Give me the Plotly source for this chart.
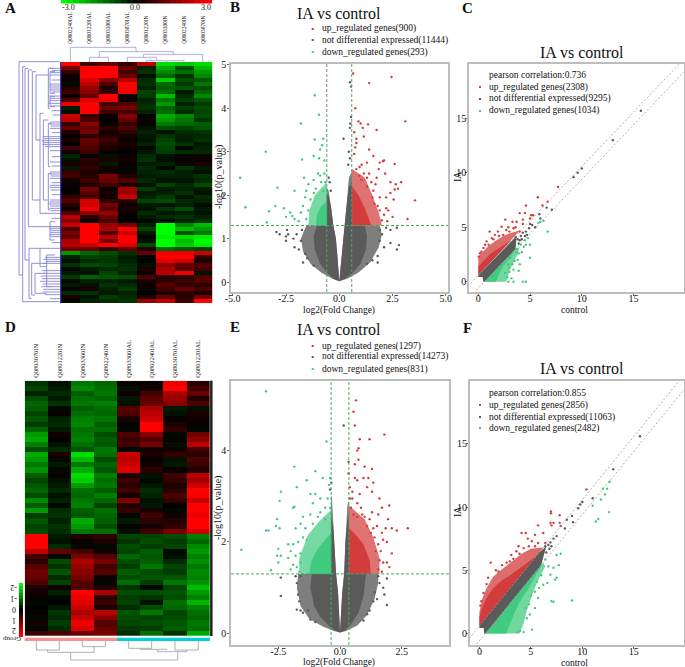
import plotly.graph_objects as go

W, H = 685, 667
SERIF = "Liberation Serif"
RED, GREY, GREEN = "#d23c3c", "#5a5a5a", "#41cb80"
FRAME = "#bdbdbd"

a_samples = ["Q0802240IAL", "Q0801220IAL", "Q0803300IAL", "Q0803070IAL",
             "Q0801220IN", "Q0803300IN", "Q0802240IN", "Q0803070IN"]
d_samples = ["Q0803070IN", "Q0801220IN", "Q0803300IN", "Q0802240IN",
             "Q0803300IAL", "Q0802240IAL", "Q0803070IAL", "Q0801220IAL"]
cbar_vals = [-3, -2.75, -2.5, -2.25, -2, -1.75, -1.5, -1.25, -1, -0.75, -0.5, -0.25, 0,
             0.25, 0.5, 0.75, 1, 1.25, 1.5, 1.75, 2, 2.25, 2.5, 2.75, 3]
cbar_small = [-2, -1.75, -1.5, -1.25, -1, -0.75, -0.5, -0.25, 0, 0.25, 0.5, 0.75, 1, 1.25, 1.5, 1.75, 2]

# expression values, in tenths
heat_a = [
 [30,8,12,6,22,-26,-24,-26],[14,30,30,12,-4,-20,-9,-22],[6,30,30,8,-6,-16,-13,-18],[2,30,29,12,-2,-12,-6,-16],
 [1,26,16,22,-5,-24,-9,-10],[-1,22,9,30,-6,-12,-7,-14],[4,18,4,30,-4,-11,-10,-9],[7,16,6,28,-8,-13,-3,-12],
 [2,12,30,2,-7,-22,-5,-16],[9,26,28,1,-4,-14,-7,-10],[28,30,8,10,-5,-18,-4,-7],[-3,30,12,14,-6,-11,-7,-9],
 [-2,30,7,8,-4,-13,-5,-8],[24,6,1,16,0,-20,-16,-9],[22,9,0,12,-1,-18,-14,-6],[6,16,2,6,1,-14,-12,-11],
 [12,12,5,10,-2,-9,-8,-10],[4,14,2,5,-4,-2,-5,-6],[1,5,4,3,-3,-6,-4,-5],[3,12,8,1,-2,-8,-3,-6],
 [0,11,5,3,-4,-9,-6,-3],[8,9,3,2,-1,-8,-1,-4],[2,7,1,0,-3,-7,-5,-5],[-4,1,-2,2,-5,-2,-1,2],
 [-2,5,3,2,-6,-2,2,1],[3,4,-3,1,-3,-4,-1,3],[-3,6,2,-1,-5,-1,-6,-3],[6,3,2,1,-4,-5,-3,-2],
 [8,5,14,4,-3,-4,-4,-6],[2,7,12,9,-5,-2,-2,-5],[1,4,8,3,-2,-8,-5,-9],[0,14,1,20,-7,-3,-4,-3],
 [1,10,3,18,-3,-4,-6,-2],[6,8,2,24,-4,-7,-2,-5],[10,26,6,5,-8,-9,-5,-4],[4,24,14,2,-3,-2,-4,-1],
 [2,28,10,3,-2,-6,-9,-3],[9,16,18,1,-5,-3,-4,-2],[22,6,12,0,-3,-5,-6,-4],[16,1,8,0,-1,-2,-4,-6],
 [24,30,18,14,-4,-30,-16,-22],[8,30,20,30,-8,-30,-22,-18],[14,30,10,24,-3,-30,-10,-14],[12,30,22,30,-1,-28,-26,-28],
 [20,30,14,30,-2,-30,-22,-30],[22,24,30,26,-9,-30,-24,-28],[14,12,6,12,4,-12,-10,-8],[-18,-12,-9,-6,12,28,28,24],
 [-4,-8,-7,-3,-1,30,30,6],[-2,-5,-6,-4,0,26,24,3],[-6,-9,-8,-5,-2,16,12,10],[-1,-3,-5,-6,3,20,10,8],
 [-3,-2,-8,-4,1,22,28,-2],[-7,-11,-10,-9,9,4,4,10],[-1,-4,-4,-3,3,6,7,9],[-3,-2,-6,-5,2,10,6,5],
 [1,3,-4,-7,-1,8,12,9],[-5,-6,-3,-4,0,3,5,3],[3,-2,-7,-5,4,12,4,14],[-1,-4,-5,-6,18,22,8,30],
]
heat_d = [
 [-6,-2,-14,-12,1,1,28,5],[-8,-3,-16,-13,-2,2,30,8],[-4,-5,-11,-14,2,8,20,12],[-9,-3,-13,-12,-3,11,18,4],
 [-12,-6,-14,-15,-2,12,16,9],[-11,-1,-11,-13,10,20,-3,-2],[-8,1,-13,-12,9,22,-2,3],[-10,-4,-15,-14,3,24,1,2],
 [-7,-5,-16,-11,1,30,3,1],[-12,-3,-13,-13,-1,30,6,-1],[-18,2,-14,-9,9,16,-1,13],[-20,0,-15,-11,7,10,1,17],
 [-15,-2,-13,-10,8,14,-2,22],[-9,-5,-10,-14,-1,2,2,8],[-20,3,-26,-13,24,3,6,5],[-18,-1,-22,-9,22,1,-2,9],
 [-14,-3,-14,-12,24,2,-3,7],[-17,-1,-20,-10,26,5,1,4],[-11,1,-26,-15,3,-2,8,22],[-8,-2,-24,-13,7,-1,6,19],
 [-10,-3,-18,-14,5,-3,3,24],[-12,-5,-13,-11,8,-5,5,30],[-9,-2,-12,-15,2,-4,9,29],[-16,-4,-14,-12,15,-2,6,24],
 [-11,-1,-15,-8,4,-3,0,30],[-18,-5,-11,-13,6,3,-1,30],[-7,-6,-10,-12,-1,8,2,28],[-10,-4,-20,-11,-3,5,4,30],
 [-8,-6,-18,-9,1,2,6,30],[-9,-5,-14,-13,-2,8,14,24],[30,-3,4,6,-8,-8,-9,-15],[30,-2,1,3,-6,-9,-7,-12],
 [30,-5,-1,-1,-9,-7,-8,-16],[22,12,8,2,-8,-11,-1,-18],[8,-1,14,10,-12,-10,-2,-15],[5,-9,20,14,-9,-11,-5,-17],
 [10,-6,18,8,-7,-14,-8,-14],[13,-10,16,10,-11,-9,-7,-16],[12,-5,14,1,-9,-10,-10,-15],[9,-8,10,-1,-13,-7,-14,-17],
 [3,2,9,4,-6,-1,-8,-22],[2,-4,30,20,-9,-9,-10,-18],[1,-1,28,5,-7,-6,-9,-15],[-1,0,26,7,-8,-2,-13,-21],
 [0,-3,24,3,-5,-9,-12,-15],[1,-6,20,22,-10,-14,-8,-13],[-1,-5,23,16,-9,-8,-9,-12],[2,-7,28,10,-8,-9,-10,-14],
 [-1,-5,26,12,-7,-7,-11,-13],[7,9,12,14,-5,-13,-6,-20],
]

# dendrograms: (x of joint, y1, y2, x end at y1, x end at y2)
a_row_brackets = [(57,185,825,180,68),(68,200,905,75,180),(75,205,780,85,87),(85,210,680,97,180),(87,745,895,120,95),
 (95,790,885,140,105),(97,215,600,108,120),(108,225,420,145,120),(120,340,640,130,150),(120,745,800,180,140),
 (145,205,325,160,150),(130,360,600,145,145),(145,370,500,155,150),(145,520,630,155,150),(140,765,860,165,155),
 (105,820,880,135,140),(150,665,720,165,165),(150,215,280,165,165),(150,290,320,165,165)]
a_leaves = [(150,205),(155,212),(152,218),(150,225),(155,240),(150,252),(148,258),(152,264),(150,270),(155,276),(145,288),
 (150,295),(148,302),(146,310),(152,318),(155,332),(158,345),(150,366),(148,372),(152,378),(150,385),(155,398),(128,410),
 (132,416),(125,422),(130,428),(128,434),(135,440),(150,452),(155,470),(150,486),(155,498),(150,516),(148,522),(152,528),
 (150,535),(155,548),(150,556),(148,562),(152,570),(155,584),(150,600),(148,606),(146,612),(150,618),(148,625),(152,632),
 (150,640),(155,655),(150,680),(148,686),(152,692),(150,698),(148,704),(152,710),(155,728),(135,772),(130,778),(138,784),
 (130,790),(125,812),(128,820),(122,828),(126,836),(120,844),(128,852),(124,860),(130,868),(128,876),(135,884),(150,896)]
a_col_brackets = [(142,211,408,186,155),(155,298,520,172,163),(172,268,325,186,186),(163,430,608,172,186),(172,382,470,186,182),
 (182,438,495,186,186),(182,552,500,186,186)]
d_col_brackets = [(1005,109,178,978,978),(995,247,316,978,978),(1012,143,282,1005,995),(1035,212,533,1012,1010),
 (1000,386,455,978,978),(1005,525,595,978,978),(1010,472,560,1005,1005),(1003,420,500,1000,1005)]

# panel B points and dense regions
b_up = [(0.65,4.8),(2.45,4.72),(1.4,4.58),(0.75,4.0),(0.9,3.7),(1.0,3.65),(1.35,3.63),(3.1,3.7),(1.75,3.5),(0.7,3.45),(1.1,3.55),
 (0.8,3.3),(1.15,3.35),(0.75,3.1),(0.8,3.2),(1.4,3.05),(1.6,2.9),(2.1,2.8),(2.05,2.78),(1.9,2.75),(2.6,2.72),(0.7,2.95),(1.3,2.75),
 (1.05,2.7),(0.95,2.65),(1.85,2.6),(1.4,2.5),(2.15,2.5),(2.4,2.3),(2.65,2.25),(2.6,2.13),(2.9,2.3),(2.75,2.15),(1.75,2.4),(1.3,2.4),
 (0.95,2.45),(1.6,2.1),(2.4,2.05),(2.2,1.95),(2.55,1.9),(3.55,1.88),(3.2,1.45),(2.5,1.5),(2.3,1.65),(2.2,1.7),(2.1,1.55),(2.25,1.4),
 (1.9,1.95),(1.7,2.25),(1.3,2.2),(1.05,2.35),(1.55,1.95),(1.8,1.75),(2.0,1.42),(1.9,1.65),(1.65,1.8),(0.8,2.6),(1.15,2.5),(1.5,2.3)]
b_down = [(-1.15,4.3),(-0.95,3.85),(-1.8,3.65),(-1.15,3.28),(-0.75,3.3),(-3.45,3.0),(-0.8,3.15),(-0.9,3.05),(-1.75,2.82),(-1.2,2.9),
 (-0.95,2.85),(-0.7,2.8),(-4.65,2.4),(-1.65,2.4),(-1.2,2.35),(-0.9,2.45),(-2.9,2.17),(-2.1,2.1),(-1.55,2.1),(-3.0,1.75),(-4.4,1.72),
 (-3.3,1.63),(-2.6,1.7),(-2.3,1.6),(-2.2,1.52),(-3.4,1.37),(-2.5,1.5),(-2.1,1.45),(-1.8,1.6),(-1.7,1.75),(-1.6,1.95),(-1.35,1.9),
 (-1.45,2.25),(-1.1,2.15),(-1.2,2.05),(-0.85,2.3),(-0.75,2.1),(-1.9,1.4),(-1.55,1.45),(-1.45,1.65),(-1.0,2.5),(-0.7,2.5),(-0.65,2.3)]
b_flat = [(0.5,4.6),(0.55,4.5),(0.55,3.8),(0.52,3.65),(0.5,3.55),(0.2,3.3),(0.45,3.0),(0.5,2.85),(0.42,2.7),(-2.95,1.15),(-2.8,1.1),
 (-2.4,1.1),(-2.45,1.2),(-2.5,1.05),(-2.5,0.95),(-2.15,1.0),(-2.0,1.1),(-2.1,0.8),(-1.7,0.45),(-1.6,0.65),(-1.9,0.75),(2.2,1.25),
 (2.4,1.2),(2.7,1.25),(2.4,0.9),(2.8,0.85),(2.7,0.75),(2.1,0.8),(1.8,0.6),(1.8,0.45),(1.55,0.5),(2.0,1.1),(1.9,1.2),(-1.75,1.2),
 (-1.8,0.95),(-1.5,0.55),(-1.2,0.38),(1.3,0.42),(1.9,0.95),(-0.45,2.3),(-0.4,2.1),(-0.5,2.4)]
b_flat_halo_left = [(0,0.02),(-0.03,0.3),(-0.09,0.6),(-0.16,1.0),(-0.28,1.3),(-0.38,1.7),(-0.5,2.1),(-0.6,2.2),(-0.6,1.3),(-1.55,1.3),
 (-1.8,1.0),(-1.7,0.7),(-1.35,0.42),(-0.85,0.22),(-0.35,0.08)]
b_flat_core_left = [(0,0.02),(-0.03,0.3),(-0.09,0.6),(-0.16,1.0),(-0.28,1.3),(-0.38,1.7),(-0.5,2.0),(-0.6,2.0),(-0.6,1.3),(-1.05,1.3),
 (-1.2,1.05),(-1.15,0.75),(-0.9,0.42),(-0.55,0.2),(-0.25,0.07)]
b_flat_halo_right = [(0,0.02),(0.4,0.08),(0.9,0.22),(1.45,0.45),(1.85,0.8),(2.0,1.1),(1.9,1.3),(0.6,1.3),(0.6,2.55),(0.45,2.4),(0.35,1.8),
 (0.25,1.3),(0.15,0.9),(0.07,0.5),(0.02,0.2)]
b_flat_core_right = [(0,0.02),(0.3,0.08),(0.6,0.2),(1.0,0.42),(1.25,0.75),(1.3,1.05),(1.2,1.3),(0.6,1.3),(0.6,2.3),(0.45,2.2),(0.35,1.8),
 (0.25,1.3),(0.15,0.9),(0.07,0.5),(0.02,0.2)]
b_up_halo = [(0.6,1.3),(2.0,1.3),(1.85,1.6),(1.55,2.0),(1.2,2.4),(0.6,2.6)]
b_up_core = [(0.6,1.3),(1.5,1.3),(1.2,1.7),(0.9,2.0),(0.6,2.2)]
b_down_halo = [(-0.6,1.3),(-1.45,1.3),(-1.4,1.65),(-1.15,2.0),(-0.6,2.3)]
b_down_core = [(-0.6,1.3),(-1.1,1.3),(-1.05,1.55),(-0.85,1.75),(-0.6,1.85)]

# panel C
c_up = [(7.7,8.7),(5.75,7.75),(4.6,7.0),(5.1,6.1),(5.3,6.1),(6.2,7.0),(6.7,7.35),(4.0,6.3),(4.5,6.3),(2.6,5.7),(3.3,5.5),(3.7,5.5),
 (2.25,5.05),(1.1,4.6),(1.9,4.6),(2.7,4.75),(1.6,4.3),(0.15,2.6),(0.3,2.75),(0.8,3.7),(0.65,3.4),(1.3,4.0),(2.4,4.3),(4.0,4.6),
 (3.0,4.6),(3.4,4.9),(2.9,5.0),(3.6,5.0),(1.45,3.9),(0.5,3.1),(0.05,2.3),(1.0,3.4),(2.0,4.2),(4.3,5.3),(5.0,5.8),(4.3,5.7)]
c_down = [(6.7,4.6),(6.3,5.6),(6.0,5.5),(5.8,5.4),(4.8,4.0),(5.0,3.4),(4.6,3.4),(4.4,3.2),(5.0,2.2),(3.9,2.6),(3.7,2.7),(4.0,1.6),
 (3.9,1.0),(3.0,0.9),(4.3,0.0),(4.6,0.0),(3.4,0.0),(3.3,1.6),(3.5,1.9),(3.1,2.2),(2.9,1.6),(2.8,0.4),(2.6,0.8),(4.1,3.4),(3.2,0.3),
 (2.9,0.0),(3.0,1.3),(3.4,1.1),(3.8,2.0),(4.2,2.7),(4.5,3.8),(3.7,3.0)]
c_flat = [(15.7,15.7),(13.0,13.0),(9.2,9.6),(9.6,10.0),(10.0,10.4),(7.1,6.6),(6.0,5.8),(5.9,6.2),(6.6,6.8),(5.2,5.2),(4.9,4.9),(5.5,5.0),
 (4.6,4.6),(4.3,4.5),(4.1,4.2),(4.5,4.2),(3.8,3.9),(3.6,4.1),(3.9,3.5),(4.0,3.8),(5.0,5.3),(4.7,4.3),(4.2,3.9)]
c_flat_mass = [(0.45,0.05),(0.5,0),(0.6,0),(3.6,3.0),(3.7,4.2),(0,0.585),(0,0.42),(0.42,0.42)]
c_up_halo = [(0,0.5),(0,2.3),(0.4,2.7),(0.9,3.2),(1.6,3.7),(2.4,4.2),(3.2,4.5),(4.0,4.7),(0,0.585)]
c_up_core = [(0,0.585),(0,1.4),(0.5,1.9),(1.2,2.6),(2.2,3.2),(3.2,3.8),(3.6,4.2)]
c_down_halo = [(0.6,0),(2.7,0),(2.9,0.6),(3.1,1.2),(3.4,1.8),(3.8,2.5),(4.0,3.2),(3.6,3.0)]
c_down_core = [(0.6,0),(1.7,0),(2.0,0.7),(2.4,1.4),(3.0,2.1),(3.6,3.0)]

# panel E
e_up = [(0.65,5.1),(0.55,4.85),(0.6,4.55),(1.8,4.35),(1.2,4.25),(0.8,4.25),(0.75,4.05),(0.7,4.0),(0.75,3.8),(0.6,3.7),(1.0,3.65),
 (1.3,3.6),(0.95,3.4),(1.15,3.4),(0.6,3.4),(0.7,3.35),(0.4,3.2),(0.5,3.1),(1.1,3.2),(1.35,3.3),(1.3,3.1),(0.8,3.05),(0.5,2.95),(0.4,2.95),
 (1.6,2.95),(0.7,2.85),(2.0,2.8),(1.7,2.75),(0.85,2.75),(1.3,2.65),(1.2,2.5),(1.95,2.5),(1.55,2.6),(2.1,2.3),(2.3,2.25),(2.75,2.3),
 (1.85,2.3),(1.7,2.2),(1.5,2.35),(1.9,2.0),(2.1,1.75),(1.9,1.55),(2.0,1.45),(1.75,1.55),(1.65,1.8),(1.55,1.95),(1.4,2.1),(1.1,2.35),
 (1.0,2.55),(0.7,2.55),(0.55,2.6),(1.35,2.3),(1.6,1.6),(1.55,1.4),(1.7,1.35),(1.45,1.8),(0.45,2.75),(0.9,2.6),(1.25,2.2),(1.75,2.05)]
e_down = [(-3.0,5.3),(-0.55,4.2),(-1.85,3.65),(-1.0,3.55),(-0.7,3.4),(-0.4,3.4),(-0.45,3.25),(-1.35,3.35),(-1.75,3.2),(-2.4,3.1),
 (-1.2,3.05),(-1.0,3.05),(-0.8,2.95),(-2.45,2.9),(-1.1,2.85),(-1.9,2.75),(-1.85,2.77),(-0.6,2.75),(-0.4,2.75),(-2.55,2.5),(-1.5,2.55),
 (-1.2,2.6),(-0.9,2.55),(-2.45,2.3),(-3.0,2.25),(-2.9,2.25),(-2.6,2.35),(-1.6,2.4),(-1.8,2.3),(-1.4,2.3),(-4.0,1.83),(-2.5,1.85),
 (-2.55,1.7),(-2.4,1.7),(-2.5,1.55),(-2.1,1.95),(-2.1,1.65),(-2.0,1.8),(-1.9,1.5),(-2.8,1.38),(-2.0,1.4),(-1.8,1.7),(-1.7,2.0),(-1.5,2.1),
 (-1.75,1.45),(-1.6,1.75),(-1.35,2.05),(-1.1,2.4),(-0.8,2.65),(-0.6,2.5),(-1.65,1.35),(-1.6,1.55),(-1.9,1.95),(-0.5,2.95)]
e_flat = [(0.15,4.55),(0.35,3.75),(0.35,3.5),(-0.35,3.3),(-0.4,3.15),(-2.4,1.22),(-2.4,0.82),(1.9,1.2),(1.75,1.0),(1.8,0.85),(1.9,0.62),
 (1.6,1.1),(-1.8,1.25),(-1.75,1.1),(-1.7,0.85),(-1.75,0.52),(-1.6,0.5),(-1.5,0.45),(-1.3,0.5),(1.4,0.9),(1.5,0.75),(1.2,0.5),(-1.2,0.3),
 (-1.65,0.7),(-1.6,1.25),(1.55,1.25),(1.35,0.7),(1.1,0.42),(0.95,0.28),(-1.0,0.25)]
e_flat_halo_left = [(0,0.02),(-0.03,0.4),(-0.08,0.9),(-0.16,1.3),(-0.2,1.8),(-0.27,2.4),(-0.33,3.0),(-0.36,3.0),(-0.36,1.3),(-1.7,1.3),
 (-1.75,1.0),(-1.6,0.6),(-1.25,0.32),(-0.7,0.15),(-0.25,0.05)]
e_flat_core_left = [(0,0.02),(-0.03,0.4),(-0.08,0.9),(-0.16,1.3),(-0.2,1.8),(-0.27,2.3),(-0.36,2.6),(-0.36,1.3),(-1.15,1.3),
 (-1.2,1.0),(-1.05,0.6),(-0.8,0.35),(-0.45,0.17),(-0.2,0.06)]
e_flat_halo_right = [(0,0.02),(0.25,0.05),(0.7,0.17),(1.1,0.4),(1.4,0.75),(1.55,1.1),(1.55,1.3),(0.36,1.3),(0.36,2.9),(0.3,2.8),(0.22,2.0),
 (0.17,1.3),(0.09,0.9),(0.04,0.4)]
e_flat_core_right = [(0,0.02),(0.2,0.06),(0.45,0.2),(0.75,0.45),(0.95,0.8),(1.05,1.3),(0.36,1.3),(0.36,2.6),(0.3,2.5),(0.22,2.0),(0.17,1.3),
 (0.09,0.9),(0.04,0.4)]
e_up_halo = [(0.36,1.3),(1.6,1.3),(1.6,1.65),(1.35,2.1),(1.0,2.5),(0.36,2.8)]
e_up_core = [(0.36,1.3),(1.25,1.3),(1.2,1.6),(0.95,1.95),(0.65,2.15),(0.36,2.3)]
e_down_halo = [(-0.36,1.3),(-1.65,1.3),(-1.65,1.65),(-1.3,2.15),(-0.85,2.45),(-0.36,2.7)]
e_down_core = [(-0.36,1.3),(-1.25,1.3),(-1.15,1.6),(-0.9,1.85),(-0.6,2.05),(-0.36,2.2)]

# panel F
f_up = [(10.4,11.4),(6.95,9.65),(6.95,9.5),(7.8,9.35),(6.9,8.75),(7.2,8.75),(7.0,8.55),(7.8,8.75),(5.7,8.55),(4.1,7.95),(4.5,7.95),
 (5.4,7.8),(6.2,7.95),(4.7,7.5),(5.1,7.3),(1.1,5.6),(2.65,5.6),(3.8,6.9),(3.1,6.2),(0.85,4.4),(0.2,2.55),(0.4,3.2),(1.85,4.9),(4.3,6.75),
 (3.6,6.5),(5.7,7.15),(6.4,7.15),(1.6,5.0),(2.2,5.4),(3.3,5.9),(2.95,5.7),(4.8,6.9),(5.4,6.9),(0.7,3.9),(0.1,2.2),(3.9,6.3)]
f_down = [(12.65,12.0),(12.0,11.45),(12.4,11.45),(11.8,10.6),(12.2,11.0),(11.0,10.1),(12.6,9.6),(11.55,9.05),(11.3,8.85),(9.0,2.6),(7.0,2.55),
 (7.2,2.5),(7.9,6.3),(7.5,6.2),(7.7,5.4),(7.2,5.2),(6.9,4.65),(7.35,4.25),(7.5,4.4),(6.7,5.3),(6.4,5.85),(6.2,3.85),(5.6,4.1),(5.7,2.8),
 (5.4,2.0),(4.9,1.5),(5.1,0.3),(3.95,0.2),(4.6,1.2),(5.4,3.3),(4.3,0.1),(3.7,0.1),(4.8,2.3),(4.5,2.0),(5.0,3.0),(6.0,4.6),(5.8,3.6),(6.6,4.0)]
f_flat = [(15.6,15.6),(13.0,13.0),(11.0,10.7),(9.8,10.2),(9.6,9.9),(9.0,9.3),(9.1,8.8),(8.5,9.0),(8.3,8.3),(7.9,8.5),(7.5,7.7),(7.2,7.5),
 (6.9,7.2),(6.8,6.7),(6.4,6.9),(6.5,6.4),(10.0,10.4),(7.0,6.9),(6.7,7.0)]
f_flat_mass = [(0.45,0.05),(0.5,0),(0.6,0),(6.0,5.4),(6.5,6.9),(5.8,6.4),(0,0.585),(0,0.42),(0.42,0.42)]
f_up_halo = [(0,0.5),(0,1.7),(0.3,2.8),(0.7,3.6),(1.35,4.5),(2.2,5.1),(3,5.6),(4.1,6.3),(5,6.7),(6,6.8),(6.2,6.785)]
f_up_core = [(0,0.585),(0,1.3),(0.3,2.1),(0.7,2.8),(1.35,3.6),(2.2,4.2),(3,4.6),(4.1,5.3),(5,5.8),(5.5,6.085)]
f_down_halo = [(0.6,0),(3.9,0),(4.3,0.8),(4.6,1.8),(5.1,3),(5.7,4.2),(6.4,5.3),(6.2,5.6)]
f_down_core = [(0.6,0),(2.6,0),(3.0,0.8),(3.4,1.6),(4,2.6),(4.8,3.6),(5.6,4.8),(6.2,5.6)]

fold_b, fold_e, p_line, diag_gap = 0.585, 0.36, 1.301, 0.585

fig = go.Figure()
anns, shapes = [], []
layout = {}

def dx(l, r): return [l / W, r / W]
def dy(t, b): return [1 - b / H, 1 - t / H]

def xy(pairs):
    return [p[0] for p in pairs], [p[1] for p in pairs]

def mass(ax, ay, pairs, color, opacity=1):
    x, y = xy(pairs)
    fig.add_trace(go.Scatter(x=x + x[:1], y=y + y[:1], mode="lines", fill="toself", fillcolor=color, opacity=opacity,
                             line=dict(width=0, color=color), xaxis=ax, yaxis=ay, showlegend=False, hoverinfo="skip"))

def dots(ax, ay, pairs, color, name):
    x, y = xy(pairs)
    fig.add_trace(go.Scatter(x=x, y=y, mode="markers", name=name, marker=dict(size=2.4, color=color, line=dict(width=0)),
                             xaxis=ax, yaxis=ay, showlegend=False))

def guide(ax, ay, x, y, color, dash, width=1):
    fig.add_trace(go.Scatter(x=x, y=y, mode="lines", line=dict(color=color, dash=dash, width=width), xaxis=ax, yaxis=ay,
                             showlegend=False, hoverinfo="skip"))

def axes(n, fx, fy, xr, yr, xt, xl, yt, yl, y_standoff):
    base = dict(showgrid=False, zeroline=False, showline=True, mirror=True, linecolor=FRAME, linewidth=1.5, ticks="outside",
                ticklen=2, tickcolor="#666", tickfont=dict(family=SERIF, size=10, color="#111"), automargin=False)
    layout[f"xaxis{n}"] = dict(base, domain=dx(*fx), range=xr, tickvals=xt, ticktext=xl, anchor=f"y{n}", ticklabelstandoff=-6)
    layout[f"yaxis{n}"] = dict(base, domain=dy(*fy), range=yr, tickvals=yt, ticktext=yl, anchor=f"x{n}", ticklabelstandoff=y_standoff)

def text(x, y, s, size=9.5, angle=0, bold=False, anchor="left", color="#111"):
    anns.append(dict(xref="paper", yref="paper", x=x / W, y=1 - y / H, text=f"<b>{s}</b>" if bold else s, showarrow=False, xanchor=anchor,
                     yanchor="middle", textangle=angle, font=dict(family=SERIF, size=size, color=color)))

def legend_block(xm, xt, ys, labels, colors):
    for y, lab, col in zip(ys, labels, colors):
        text(xt, y, lab)
        shapes.append(dict(type="rect", xref="paper", yref="paper", x0=(xm - 1) / W, x1=(xm + 1) / W, y0=1 - (y + 1) / H, y1=1 - (y - 1) / H,
                           fillcolor=col, line=dict(width=0)))

# heatmaps
SCALE = [[0, "#00ff00"], [0.5, "#000000"], [1, "#ff0000"]]
def heat(n, z, cats, fx, fy, standoff, size):
    fig.add_trace(go.Heatmap(z=z, x=cats, zmin=-30, zmax=30, colorscale=SCALE, showscale=False, xaxis=f"x{n}", yaxis=f"y{n}"))
    layout[f"xaxis{n}"] = dict(domain=dx(*fx), side="top", tickangle=-90, ticks="", showgrid=False, zeroline=False, anchor=f"y{n}", automargin=False,
                               tickfont=dict(family=SERIF, size=size, color="#111"), ticklabelstandoff=standoff, tickmode="array", tickvals=cats, ticktext=cats)
    layout[f"yaxis{n}"] = dict(domain=dy(*fy), autorange="reversed", visible=False, anchor=f"x{n}", automargin=False)

heat("", heat_a, a_samples, (60.7, 212.3), (62, 303), 17, 5.4)
heat(2, heat_d, d_samples, (24.7, 210), (380.7, 636), 2, 6.4)

# colour bars
fig.add_trace(go.Heatmap(z=[cbar_vals, cbar_vals], zmin=-3, zmax=3, colorscale=SCALE, showscale=False, xaxis="x3", yaxis="y3", hoverinfo="skip"))
layout["xaxis3"] = dict(domain=dx(61, 212), visible=False, anchor="y3")
layout["yaxis3"] = dict(domain=dy(0, 3.5), visible=False, anchor="x3")
fig.add_trace(go.Heatmap(z=[[v, v] for v in cbar_small], zmin=-2, zmax=2, colorscale=SCALE, showscale=False, xaxis="x4", yaxis="y4", hoverinfo="skip"))
layout["xaxis4"] = dict(domain=dx(19, 23), visible=False, anchor="y4")
layout["yaxis4"] = dict(domain=dy(583, 637), visible=False, anchor="x4", autorange="reversed")
for s, x in [("-3.0", 68), ("0.0", 135), ("3.0", 206)]:
    text(x, 7.5, s, size=8, anchor="center")
for s, y in [("-2", 588), ("-1", 599), ("0", 610), ("1", 621), ("2", 631)]:
    text(14, y, s, size=8, angle=180, anchor="center")
text(12, 639.5, "Group", size=7, angle=180, anchor="center")

# volcano and scatter panels
axes(5, (231, 448), (64, 292), [-5.08, 5.1], [-0.23, 5.02], [-5, -2.5, 0, 2.5, 5], ["-5.0", "-2.5", "0.0", "2.5", "5.0"],
     [0, 1, 2, 3, 4, 5], ["0", "1", "2", "3", "4", "5"], -1)
axes(6, (469, 684.3), (64, 292.3), [-0.9, 19.9], [-0.98, 20], [0, 5, 10, 15], ["0", "5", "10", "15"],
     [0, 5, 10, 15], ["0", "5", "10", "15"], -3)
axes(7, (231, 449), (380.7, 645), [-4.42, 4.42], [-0.255, 5.53], [-2.5, 0, 2.5], ["-2.5", "0.0", "2.5"],
     [0, 2, 4], ["0", "2", "4"], -1)
axes(8, (469.7, 684.3), (380.7, 645), [-0.94, 19.9], [-0.92, 20], [0, 5, 10, 15], ["0", "5", "10", "15"],
     [0, 5, 10, 15], ["0", "5", "10", "15"], -3)
for s, x, y in [("log2(Fold Change)", 339, 310), ("control", 574, 310), ("log2(Fold Change)", 339, 662.5), ("control", 574, 662.5)]:
    text(x, y, s, size=9.5, anchor="center")
for s, x, y in [("-log10(p_value)", 219, 177), ("IA", 457, 177), ("-log10(p_value)", 218, 508), ("IA", 457, 512)]:
    text(x, y, s, size=10, angle=-90, anchor="center")

def volcano(n, masses, up, down, flat, fold, xr, yr):
    ax, ay = f"x{n}", f"y{n}"
    fhl, fcl, fhr, fcr, uh, uc, dh, dc = masses
    mass(ax, ay, fhl, GREY, 0.78); mass(ax, ay, fhr, GREY, 0.78)
    mass(ax, ay, fcl, GREY); mass(ax, ay, fcr, GREY)
    mass(ax, ay, uh, RED, 0.72); mass(ax, ay, uc, RED)
    mass(ax, ay, dh, GREEN, 0.72); mass(ax, ay, dc, GREEN)
    dots(ax, ay, flat, GREY, "not differential expressed")
    dots(ax, ay, up, RED, "up_regulated genes"); dots(ax, ay, down, GREEN, "down_regulated genes")
    guide(ax, ay, xr, [p_line, p_line], "#3fae5c", "3px,2px")
    for f in (-fold, fold):
        guide(ax, ay, [f, f], yr, "#3fae5c", "3px,2px")

def scatter(n, fm, uh, uc, dh, dc, up, down, flat):
    ax, ay = f"x{n}", f"y{n}"
    mass(ax, ay, dh, GREEN, 0.75); mass(ax, ay, dc, GREEN)
    mass(ax, ay, uh, RED, 0.75); mass(ax, ay, uc, RED)
    mass(ax, ay, fm, GREY)
    dots(ax, ay, flat, GREY, "not differential expressed")
    dots(ax, ay, up, RED, "up_regulated genes"); dots(ax, ay, down, GREEN, "down_regulated genes")
    for g in (diag_gap, -diag_gap):
        guide(ax, ay, [-1, 20], [-1 + g, 20 + g], "#9a9a9a", "2px,2px", 0.8)

volcano(5, (b_flat_halo_left, b_flat_core_left, b_flat_halo_right, b_flat_core_right, b_up_halo, b_up_core, b_down_halo, b_down_core),
        b_up, b_down, b_flat, fold_b, [-5.08, 5.1], [-0.23, 5.02])
scatter(6, c_flat_mass, c_up_halo, c_up_core, c_down_halo, c_down_core, c_up, c_down, c_flat)
volcano(7, (e_flat_halo_left, e_flat_core_left, e_flat_halo_right, e_flat_core_right, e_up_halo, e_up_core, e_down_halo, e_down_core),
        e_up, e_down, e_flat, fold_e, [-4.42, 4.42], [-0.255, 5.53])
scatter(8, f_flat_mass, f_up_halo, f_up_core, f_down_halo, f_down_core, f_up, f_down, f_flat)

# titles, legends, letters
for x, y in [(339, 13), (582, 52), (339, 330), (582, 368)]:
    text(x, y, "IA vs control", size=16, anchor="center")
cols = [RED, GREY, GREEN]
legend_block(312.7, 320, [29, 40, 52], ["up_regulated genes(900)", "not differential expressed(11444)", "down_regulated genes(293)"], cols)
legend_block(312.7, 320, [346, 357, 369], ["up_regulated genes(1297)", "not differential expressed(14273)", "down_regulated genes(831)"], cols)
text(487, 75, "pearson correlation:0.736")
legend_block(480, 487, [87, 99, 111], ["up_regulated genes(2308)", "not differential expressed(9295)", "down_regulated genes(1034)"], cols)
text(487, 393, "pearson correlation:0.855")
legend_block(480, 487, [405, 417, 428], ["up_regulated genes(2856)", "not differential expressed(11063)", "down_regulated genes(2482)"], cols)
for s, x, y in [("A", 10, 8), ("B", 235, 7), ("C", 467, 8), ("D", 10, 327), ("E", 235, 327), ("F", 467, 328)]:
    text(x, y, s, size=15, bold=True, anchor="center")

# dendrograms and strips on a full-figure overlay, in 3x picture units
lx, ly = [], []
for x, y1, y2, e1, e2 in a_row_brackets:
    lx += [e1, x, x, e2, None]; ly += [y1, y1, y2, y2, None]
for x0, y in a_leaves:
    lx += [x0, 180, None]; ly += [y, y, None]
fig.add_trace(go.Scatter(x=lx, y=ly, mode="lines", line=dict(color="#8484d0", width=0.9), xaxis="x9", yaxis="y9", showlegend=False, hoverinfo="skip"))
cx, cy = [], []
for y, x1, x2, e1, e2 in a_col_brackets:
    cx += [x1, x1, x2, x2, None]; cy += [e1, y, y, e2, None]
fig.add_trace(go.Scatter(x=cx, y=cy, mode="lines", line=dict(color="#9a9ad8", width=0.8), xaxis="x9", yaxis="y9", showlegend=False, hoverinfo="skip"))
gx, gy = [], []
for y, x1, x2, e1, e2 in d_col_brackets:
    gx += [x1, x1, x2, x2, None]; gy += [e1 + 945, y + 945, y + 945, e2 + 945, None]
fig.add_trace(go.Scatter(x=gx, y=gy, mode="lines", line=dict(color="#a8a8a8", width=0.9), xaxis="x9", yaxis="y9", showlegend=False, hoverinfo="skip"))
fig.add_trace(go.Scatter(x=[182, 182], y=[186, 910], mode="lines", line=dict(color="#3030a8", width=1.2), xaxis="x9", yaxis="y9", showlegend=False, hoverinfo="skip"))
fig.add_trace(go.Scatter(x=[634, 634], y=[1142, 1908], mode="lines", line=dict(color="#222", width=2.5), xaxis="x9", yaxis="y9", showlegend=False, hoverinfo="skip"))
layout["xaxis9"] = dict(domain=[0, 1], range=[0, W * 3], visible=False, anchor="y9", fixedrange=True)
layout["yaxis9"] = dict(domain=[0, 1], range=[H * 3, 0], visible=False, anchor="x9", fixedrange=True)
for x0, x1, col in [(74, 351, "#f8918a"), (351, 630, "#00d2da")]:
    shapes.append(dict(type="rect", xref="x9", yref="y9", x0=x0, x1=x1, y0=1913, y1=1923, fillcolor=col, line=dict(width=0)))

fig.update_layout(template="none", width=W, height=H, autosize=False, margin=dict(l=0, r=0, t=0, b=0, pad=0), paper_bgcolor="white", plot_bgcolor="rgba(0,0,0,0)",
                  annotations=anns, shapes=shapes, showlegend=False, **layout)
fig.write_html("out.html", post_script="document.body.style.margin='0';", config={"displayModeBar": False})
